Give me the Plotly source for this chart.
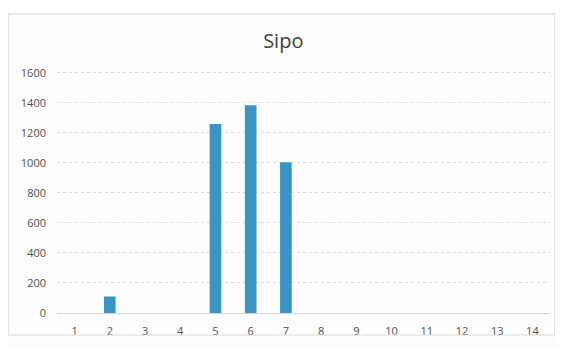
import plotly.graph_objects as go

categories = [str(i) for i in range(1, 15)]
values = [0, 110, 0, 0, 1260, 1385, 1005, 0, 0, 0, 0, 0, 0, 0]
y_ticks = [0, 200, 400, 600, 800, 1000, 1200, 1400, 1600]

fig = go.Figure(go.Bar(
    x=categories, y=values,
    marker=dict(color="#3a95c6", line=dict(width=0)),
    width=0.33,
))

fig.update_layout(
    width=563, height=347,
    paper_bgcolor="#fdfdfd", plot_bgcolor="#fdfdfd",
    margin=dict(l=49, r=21, t=63, b=42),
    title=dict(text="Sipo", x=0.489, xanchor="center", y=0.905, yanchor="middle",
               font=dict(family="Open Sans, Liberation Sans, sans-serif", size=20, color="#404040")),
    showlegend=False,
    font=dict(family="Open Sans, Liberation Sans, sans-serif", size=11, color="#595959"),
)
fig.update_xaxes(type="category", showgrid=False, showline=False, ticks="",
                 ticklabelstandoff=10,
                 tickfont=dict(size=11, color="#505050"))
fig.update_yaxes(range=[0, 1613], tickvals=y_ticks, showgrid=True,
                 gridcolor="#dadada", gridwidth=1, griddash="dot",
                 zeroline=True, zerolinecolor="#d4d4d4", zerolinewidth=1,
                 ticks="", ticklabelstandoff=10,
                 tickfont=dict(size=11, color="#505050"))
fig.add_shape(type="rect", xref="paper", yref="paper",
              x0=-0.099, x1=1.010, y0=-0.091, y1=1.2355,
              line=dict(color="#d8d8d8", width=1))

fig.write_html("out.html")
